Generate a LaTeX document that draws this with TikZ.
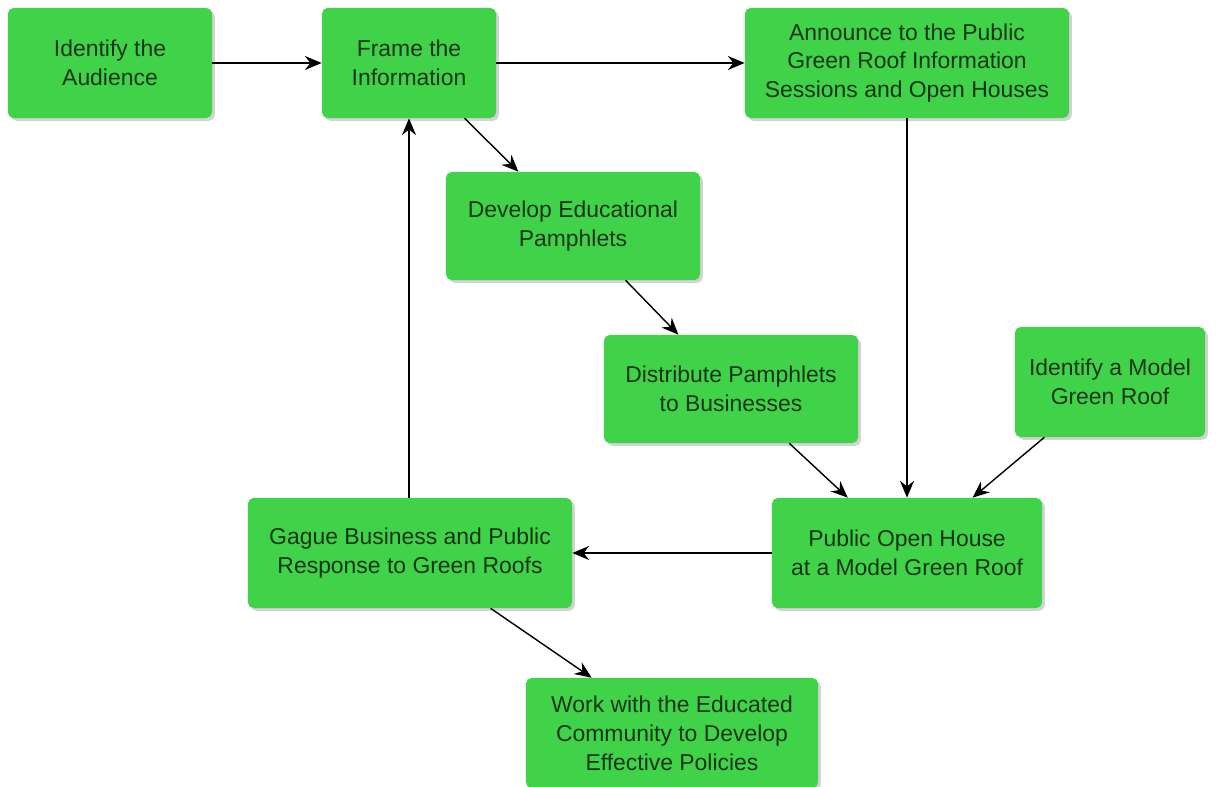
\documentclass[tikz,border=0pt]{standalone}
\usepackage{fontspec}
\setmainfont{Liberation Sans}
\usetikzlibrary{arrows.meta,shadows}

\definecolor{boxgreen}{RGB}{64,210,72}
\definecolor{boxtext}{RGB}{22,52,22}

\tikzset{
  stepbox/.style={draw=none, fill=boxgreen, rounded corners=4pt, align=center,
    text=boxtext, font=\fontsize{16.3}{20.5}\selectfont,
    drop shadow={shadow xshift=2pt, shadow yshift=-2pt, opacity=0.35}},
  flow/.style={-{Stealth[length=12pt,width=10pt,inset=4pt]}, line width=1pt}
}

\begin{document}
\begin{tikzpicture}[x=0.025cm, y=-0.025cm]
% Fix the page size
\useasboundingbox (0,0) rectangle (1217,787);

% Top row
\node[stepbox, minimum width=5.1cm, minimum height=2.75cm] (aud) at (110,63) {Identify the\\Audience};
\node[stepbox, minimum width=4.35cm, minimum height=2.75cm] (frame) at (409,63) {Frame the\\Information};
\node[stepbox, minimum width=8.1cm, minimum height=2.75cm] (announce) at (907,63) {Announce to the Public\\Green Roof Information\\Sessions and Open Houses};

% Pamphlets
\node[stepbox, minimum width=6.35cm, minimum height=2.7cm] (develop) at (573,226) {Develop Educational\\Pamphlets};
\node[stepbox, minimum width=6.35cm, minimum height=2.7cm] (distribute) at (731,389) {Distribute Pamphlets\\to Businesses};
\node[stepbox, minimum width=4.75cm, minimum height=2.75cm] (model) at (1110,382) {Identify a Model\\Green Roof};

% Bottom row
\node[stepbox, minimum width=6.75cm, minimum height=2.75cm] (openhouse) at (907,553) {Public Open House\\at a Model Green Roof};
\node[stepbox, minimum width=8.1cm, minimum height=2.75cm] (gague) at (410,553) {Gague Business and Public\\Response to Green Roofs};
\node[stepbox, minimum width=7.3cm, minimum height=2.75cm] (work) at (672,733) {Work with the Educated\\Community to Develop\\Effective Policies};

% Connectors
\draw[flow] (aud) -- (frame);
\draw[flow] (frame) -- (announce);
\draw[flow] (frame) -- (develop);
\draw[flow] (develop) -- (distribute);
\draw[flow] (announce) -- (openhouse);
\draw[flow] (distribute) -- (openhouse);
\draw[flow] (model) -- (openhouse);
\draw[flow] (openhouse) -- (gague);
\draw[flow] (gague.north -| frame) -- (frame);
\draw[flow] (gague) -- (work);
\end{tikzpicture}
\end{document}
